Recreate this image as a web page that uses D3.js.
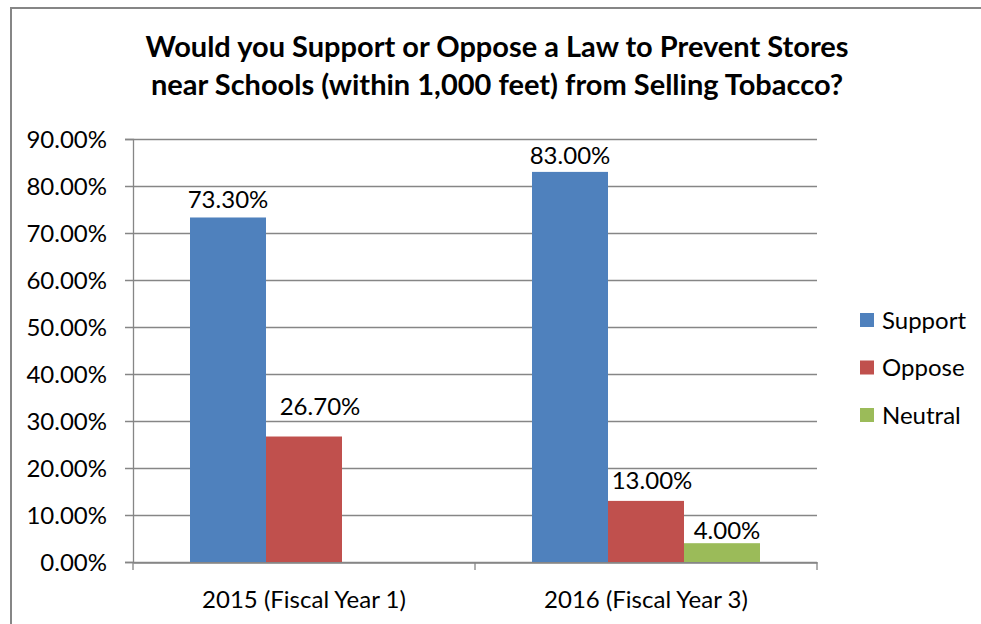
<!DOCTYPE html>
<html lang="en">
<head>
    <meta charset="UTF-8">
    <script src="https://d3js.org/d3.v7.min.js"></script>
    <title>Support or Oppose Tobacco Law</title>
    <style>
        body { margin: 0; background: #fff; }
        text { font-family: Lato, "Open Sans", sans-serif; fill: #000; }
    </style>
</head>
<body>
    <div id="chart"></div>
    <script>
        const categories = ["2015 (Fiscal Year 1)", "2016 (Fiscal Year 3)"];
        const seriesNames = ["Support", "Oppose", "Neutral"];
        const support = [73.3, 83.0];
        const oppose = [26.7, 13.0];
        const neutral = [null, 4.0];
        const yTicks = [0, 10, 20, 30, 40, 50, 60, 70, 80, 90];
        const colors = ["#4F81BD", "#C0504D", "#9BBB59"];

        const seriesValues = [support, oppose, neutral];
        const width = 981, height = 624;
        const margin = { top: 139, right: 164, bottom: 62, left: 133 };
        const fs = "24px";
        // small hand nudges for the data labels, [series][category] -> [dx, dy]
        const labelNudge = [
            [[0, 0], [0, 1]],
            [[16, -13], [6, -3]],
            [[null], [5, 5]]
        ];

        const svg = d3.select("#chart").append("svg")
            .attr("width", width)
            .attr("height", height);

        // outer frame of the chart area
        svg.append("rect")
            .attr("x", 11).attr("y", 8)
            .attr("width", 1100).attr("height", 700)
            .attr("fill", "none")
            .attr("stroke", "#868686")
            .attr("stroke-width", 2);

        const x0 = d3.scaleBand()
            .domain(categories)
            .range([margin.left, width - margin.right])
            .paddingInner(0)
            .paddingOuter(0);

        const x1 = d3.scaleBand()
            .domain(seriesNames)
            .range([0, x0.bandwidth()])
            .paddingOuter(0.75)
            .paddingInner(0);

        const y = d3.scaleLinear()
            .domain([0, 90])
            .range([height - margin.bottom, margin.top]);

        // gridlines
        svg.append("g")
            .selectAll("line")
            .data(yTicks)
            .enter().append("line")
            .attr("x1", margin.left - 8)
            .attr("x2", width - margin.right)
            .attr("y1", d => y(d) + 0.5)
            .attr("y2", d => y(d) + 0.5)
            .attr("stroke", "#868686")
            .attr("stroke-width", 1.3);

        // y axis
        const yAxis = svg.append("g")
            .attr("transform", `translate(${margin.left},0)`)
            .call(d3.axisLeft(y).tickValues(yTicks).tickSize(8).tickPadding(18)
                .tickFormat(d => d.toFixed(2) + "%"));
        yAxis.select(".domain").attr("stroke", "#868686").attr("stroke-width", 1.3);
        yAxis.selectAll(".tick line").attr("stroke", "#868686");
        yAxis.selectAll("text").attr("font-size", fs).attr("dy", "0.36em")
            .style("font-family", "Lato, sans-serif");

        // bars
        const groups = svg.append("g")
            .selectAll("g")
            .data(categories)
            .enter().append("g")
            .attr("transform", d => `translate(${x0(d)},0)`);

        groups.each(function(cat, ci) {
            const g = d3.select(this);
            seriesNames.forEach((s, si) => {
                const v = seriesValues[si][ci];
                if (v == null) return;
                const [dx, dy] = labelNudge[si][ci];
                g.append("rect")
                    .attr("x", x1(s))
                    .attr("y", y(v))
                    .attr("width", x1.bandwidth())
                    .attr("height", y(0) - y(v))
                    .attr("fill", colors[si]);
                g.append("text")
                    .attr("x", x1(s) + x1.bandwidth() / 2 + dx)
                    .attr("y", y(v) - 9 + dy)
                    .attr("text-anchor", "middle")
                    .attr("font-size", fs)
                    .text(v.toFixed(2) + "%");
            });
        });

        // x axis
        const xAxis = svg.append("g")
            .attr("transform", `translate(0,${y(0) + 0.5})`)
            .call(d3.axisBottom(x0).tickSize(0).tickPadding(28));
        xAxis.select(".domain").attr("stroke", "#868686").attr("stroke-width", 1.3);
        xAxis.selectAll("text").attr("font-size", fs).style("font-family", "Lato, sans-serif");
        svg.append("g")
            .selectAll("line")
            .data([margin.left, x0(categories[1]), width - margin.right])
            .enter().append("line")
            .attr("x1", d => d).attr("x2", d => d)
            .attr("y1", y(0)).attr("y2", y(0) + 8)
            .attr("stroke", "#868686")
            .attr("stroke-width", 1.3);

        // title
        const title = svg.append("text")
            .attr("x", 497)
            .attr("text-anchor", "middle")
            .attr("font-size", "29px")
            .attr("font-weight", "bold");
        title.append("tspan").attr("x", 497).attr("y", 57)
            .text("Would you Support or Oppose a Law to Prevent Stores");
        title.append("tspan").attr("x", 497).attr("y", 95)
            .text("near Schools (within 1,000 feet) from Selling Tobacco?");

        // legend
        const legend = svg.append("g")
            .selectAll("g")
            .data(seriesNames)
            .enter().append("g")
            .attr("transform", (d, i) => `translate(860,${320 + i * 47.5})`);
        legend.append("rect")
            .attr("x", 0).attr("y", -7)
            .attr("width", 14).attr("height", 14)
            .attr("fill", (d, i) => colors[i]);
        legend.append("text")
            .attr("x", 22)
            .attr("y", 0)
            .attr("dy", "0.36em")
            .attr("font-size", fs)
            .text(d => d);
    </script>
</body>
</html>
